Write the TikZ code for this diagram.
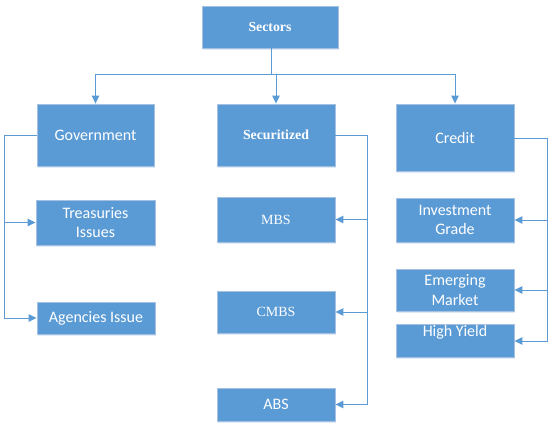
\documentclass[tikz,border=0pt]{standalone}
\usepackage{fontspec}
\setmainfont{Carlito}
\newfontfamily\serifbox{Liberation Serif}
\usetikzlibrary{arrows.meta,shadows}
\definecolor{boxfill}{RGB}{91,155,213}
\definecolor{boxedge}{RGB}{165,192,225}
\definecolor{linec}{RGB}{91,155,213}
\definecolor{shadowc}{RGB}{222,234,246}
\tikzset{
  box/.style={rectangle, fill=boxfill, draw=boxedge, line width=0.9pt, inner sep=0pt,
    text=white, align=center, font=\fontsize{16}{19.5}\selectfont,
    drop shadow={shadow xshift=0.6pt, shadow yshift=-1.6pt, fill=shadowc, opacity=1}},
  serifbold/.style={font=\serifbox\bfseries\fontsize{13.8}{16}\selectfont},
  serifplain/.style={font=\serifbox\fontsize{14}{16}\selectfont},
  conn/.style={draw=linec, line width=1pt},
  arr/.style={conn, -{Triangle[length=8pt,width=7.5pt]}},
}
\begin{document}
\begin{tikzpicture}[x=1pt,y=-1pt]
\useasboundingbox (0,0) rectangle (552,432);
% boxes
\node[box, serifbold, minimum width=136pt, minimum height=42pt] (sectors) at (270,27) {Sectors};
\node[box, minimum width=117pt, minimum height=62pt] (gov) at (95.5,135) {Government};
\node[box, serifbold, minimum width=118pt, minimum height=62pt] (sec) at (276,135) {Securitized};
\node[box, minimum width=118pt, minimum height=67pt] (cred) at (455,137.5) {Credit};
\node[box, minimum width=119pt, minimum height=45pt] (treas) at (95.5,222.5) {Treasuries\\Issues};
\node[box, minimum width=118pt, minimum height=32pt] (agen) at (96,318) {Agencies Issue};
\node[box, serifplain, minimum width=118pt, minimum height=45pt] (mbs) at (276,219.5) {MBS};
\node[box, serifplain, minimum width=118pt, minimum height=42pt] (cmbs) at (276,312) {CMBS};
\node[box, minimum width=118pt, minimum height=33pt] (abs) at (276,404.5) {ABS};
\node[box, minimum width=118pt, minimum height=44pt] (ig) at (455,220) {Investment\\Grade};
\node[box, minimum width=118pt, minimum height=42pt] (em) at (455,290) {Emerging\\Market};
\node[box, minimum width=118pt, minimum height=33pt, text height=12pt, text depth=21pt] (hy) at (455,340.5) {High Yield};
% junction coordinates
\coordinate (bus) at (271,74);
\coordinate (govbus) at (4,135);
\coordinate (secbus) at (367,135);
\coordinate (credbus) at (547,138);
% connectors from Sectors
\draw[conn] (sectors.south -| bus) -- (bus);
\draw[arr] (bus) -| (gov.north);
\draw[arr] (bus) -| (sec.north);
\draw[arr] (bus) -| (cred.north);
% Government
\draw[conn] (gov.west) -- (govbus);
\draw[arr] (govbus) |- (treas.west);
\draw[arr] (govbus) |- (agen.west);
% Securitized
\draw[conn] (sec.east) -- (secbus);
\draw[arr] (secbus) |- (mbs.east);
\draw[arr] (secbus) |- (cmbs.east);
\draw[arr] (secbus) |- (abs.east);
% Credit
\draw[conn] (cred.east |- credbus) -- (credbus);
\draw[arr] (credbus) |- (ig.east);
\draw[arr] (credbus) |- (em.east);
\draw[arr] (credbus) |- ([yshift=-0.5pt]hy.east);
\end{tikzpicture}
\end{document}
